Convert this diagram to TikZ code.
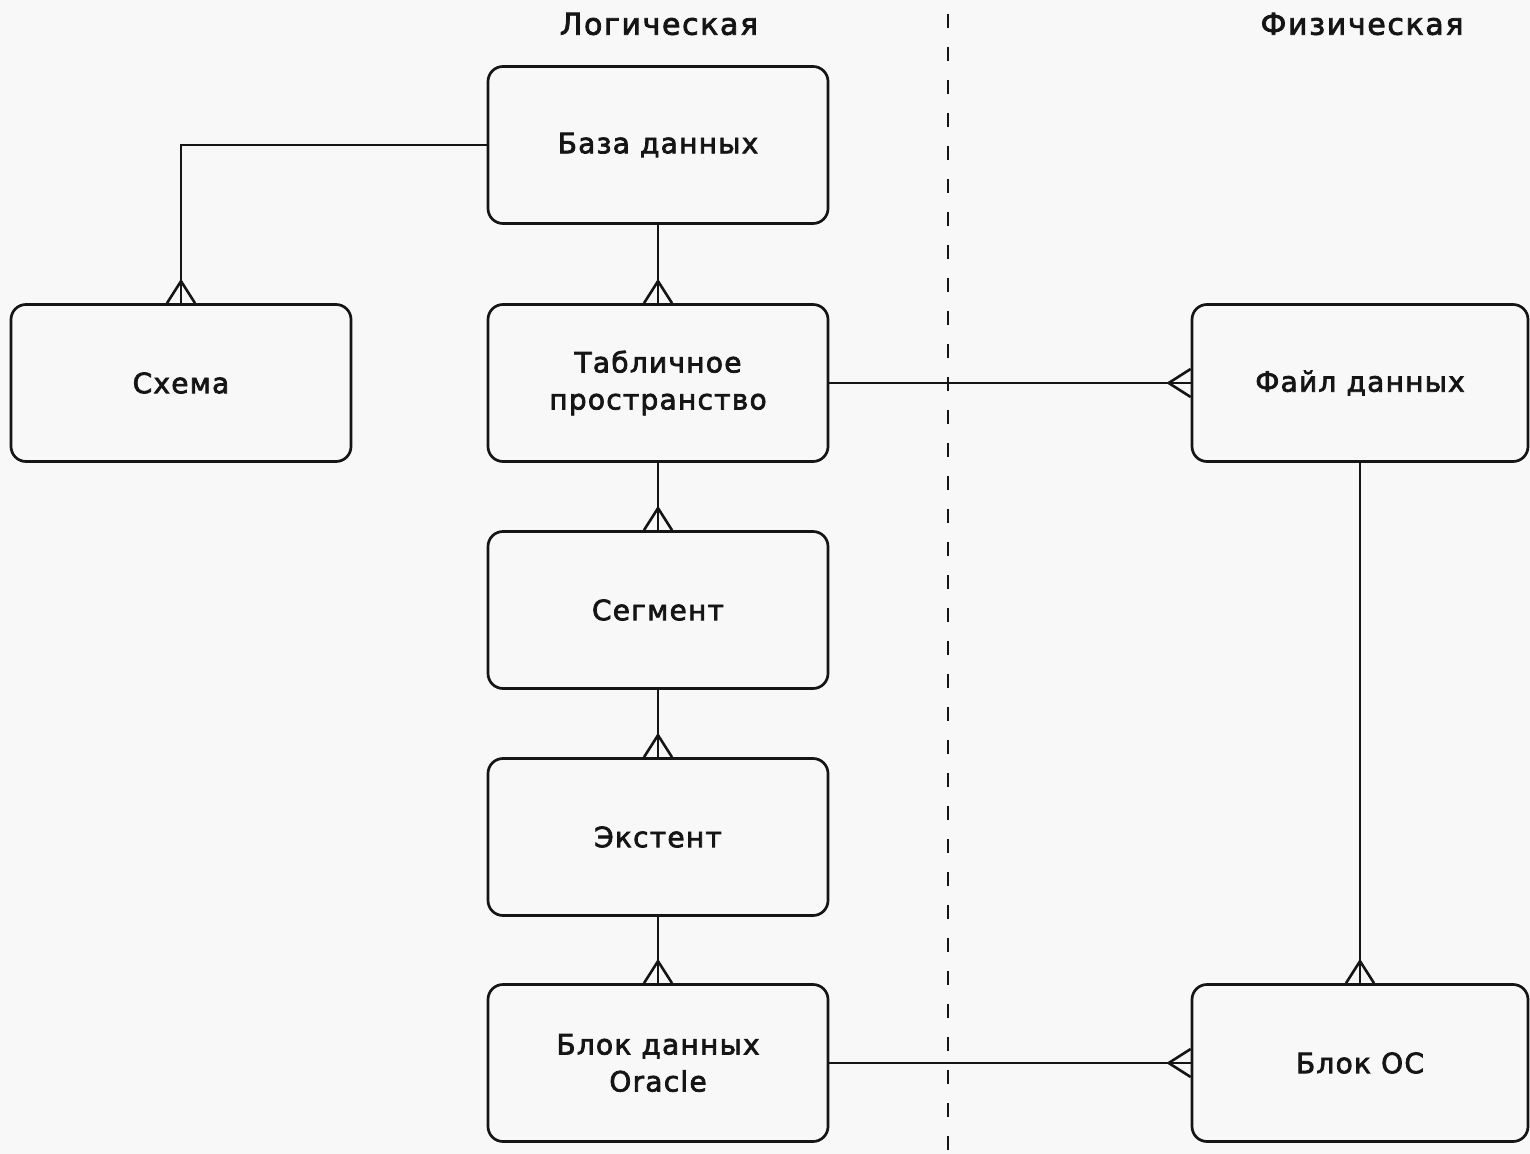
\documentclass[tikz,border=0pt]{standalone}
\usepackage{fontspec}
\setmainfont{DejaVu Sans}
\newfontfamily\boxfont{DejaVu Sans}[LetterSpace=4.5, FakeBold=2.6]
\newfontfamily\headfont{DejaVu Sans}[LetterSpace=5.5, FakeBold=2.6]
\usetikzlibrary{calc}
\definecolor{paper}{HTML}{F8F8F8}
\definecolor{ink}{HTML}{151515}
\begin{document}
\begin{tikzpicture}[x=0.5pt,y=-0.5pt,
  entity/.style={draw=ink, line width=1.35pt, rounded corners=7.5pt,
    minimum width=170pt, minimum height=78.5pt, align=center,
    font=\boxfont\fontsize{14}{18.5}\selectfont, text=ink},
  title/.style={font=\headfont\fontsize{15}{17}\selectfont, text=ink},
  link/.style={draw=ink, line width=1.3pt},
  border/.style={draw=ink, line width=1.15pt, dash pattern=on 7pt off 9.5pt}]
  % canvas
  \fill[paper] (0,0) rectangle (1530,1154);
  \useasboundingbox (0,0) rectangle (1530,1154);

  % column headings and separator
  \node[title] (tlog) at (659,24) {Логическая};
  \node[title] (tphy) at (1362,24) {Физическая};
  \coordinate (sepTop) at (948,14);
  \coordinate (sepBot) at (948,1154);
  \draw[border] (sepTop) -- (sepBot);

  % entities
  \node[entity] (db)     at (658,145)  {База данных};
  \node[entity] (schema) at (181,383)  {Схема};
  \node[entity] (ts)     at (658,383)  {Табличное\\пространство};
  \node[entity] (seg)    at (658,610)  {Сегмент};
  \node[entity] (ext)    at (658,837)  {Экстент};
  \node[entity] (blk)    at (658,1063) {Блок данных\\Oracle};
  \node[entity, minimum width=168pt] (file)  at (1360,383)  {Файл данных};
  \node[entity, minimum width=168pt] (osblk) at (1360,1063) {Блок ОС};

  % relationships
  \draw[link] (db.west) -| (schema.north);
  \draw[link] (db.south) -- (ts.north);
  \draw[link] (ts.south) -- (seg.north);
  \draw[link] (seg.south) -- (ext.north);
  \draw[link] (ext.south) -- (blk.north);
  \draw[link] (ts.east) -- (file.west);
  \draw[link] (file.south) -- (osblk.north);
  \draw[link] (blk.east) -- (osblk.west);

  % crow's feet ("many" ends)
  \foreach \n in {schema,ts,seg,ext,blk,osblk}{
    \draw[link] ($(\n.north)+(-14,0)$) -- ($(\n.north)+(0,-22)$) -- ($(\n.north)+(14,0)$);
  }
  \foreach \n in {file,osblk}{
    \draw[link] ($(\n.west)+(0,-14)$) -- ($(\n.west)+(-22,0)$) -- ($(\n.west)+(0,14)$);
  }
\end{tikzpicture}
\end{document}
